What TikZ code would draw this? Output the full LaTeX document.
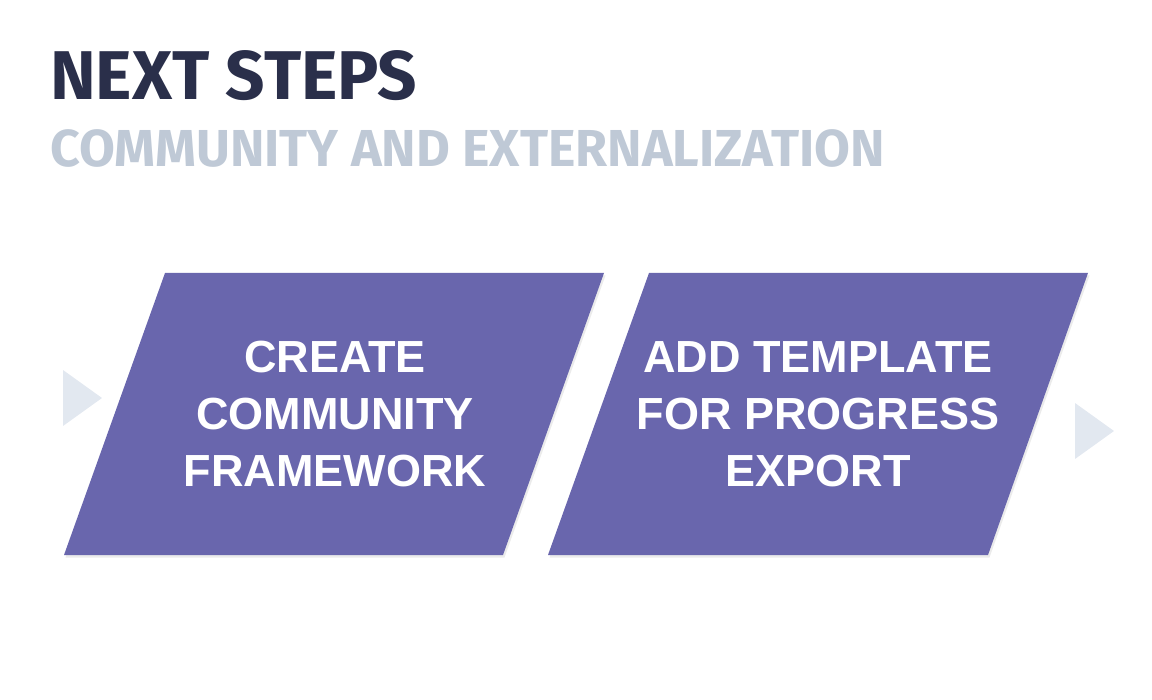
\documentclass[tikz,border=0pt]{standalone}
\usepackage{fontspec}
\setmainfont{Fira Sans}
\newfontfamily\boxfont{Liberation Sans}
\usepackage{xcolor}
\definecolor{navy}{HTML}{2A2F4A}
\definecolor{mist}{HTML}{BFC9D6}
\definecolor{violet}{HTML}{6966AD}
\definecolor{frost}{HTML}{E2E8F0}
\usetikzlibrary{shadows, calc}

\tikzset{
  stepshape/.style={fill=violet, drop shadow={shadow xshift=1.5pt, shadow yshift=-2.5pt, opacity=0.08, fill=black}},
  steptext/.style={text=white, align=center, font=\boxfont\bfseries\fontsize{45}{57}\selectfont},
  pointer/.style={fill=frost}
}

\begin{document}
\begin{tikzpicture}[x=1pt, y=-1pt]
  % Canvas
  \useasboundingbox (0,0) rectangle (1152,700);

  % Heading
  \node[anchor=base west, inner sep=0pt, text=navy, font=\bfseries\fontsize{69}{69}\selectfont] (title) at (50,100) {NEXT STEPS};
  \node[anchor=base west, inner sep=0pt, text=mist, font=\bfseries\fontsize{52}{52}\selectfont] (subtitle) at (50,167) {COMMUNITY AND EXTERNALIZATION};

  % Step 1
  \fill[stepshape] (165,273) -- (604,273) -- (503,555) -- (64,555) -- cycle;
  \node[steptext] (create) at (335,414) {CREATE\\COMMUNITY\\FRAMEWORK};

  % Step 2
  \fill[stepshape] (649,273) -- (1088,273) -- (988,555) -- (548,555) -- cycle;
  \node[steptext] (template) at (818,414) {ADD TEMPLATE\\FOR PROGRESS\\EXPORT};

  % Pointers
  \fill[pointer] (63,370) -- (102,398) -- (63,426) -- cycle;
  \fill[pointer] (1075,403) -- (1114,431) -- (1075,459) -- cycle;
\end{tikzpicture}
\end{document}
